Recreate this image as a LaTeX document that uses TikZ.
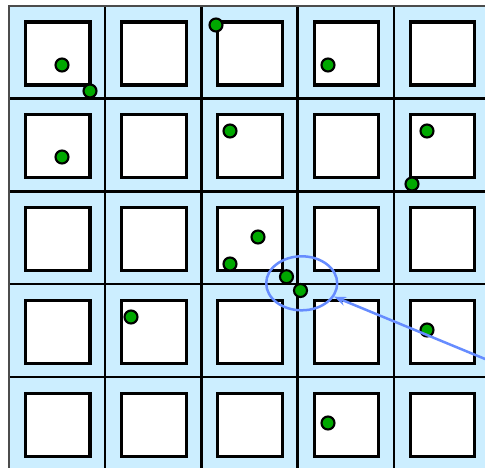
\documentclass[tikz,border=0pt]{standalone}
\usetikzlibrary{shapes.geometric,arrows.meta}
\definecolor{cellblue}{RGB}{204,238,255}
\definecolor{dotgreen}{RGB}{0,168,0}
\definecolor{ringblue}{RGB}{102,140,255}
\begin{document}
\begin{tikzpicture}[x=1pt,y=-1pt,
  dot/.style={circle,draw=black,line width=2.1pt,fill=dotgreen,minimum size=13pt,inner sep=0pt},
  innersq/.style={draw=black,fill=white,line width=3.1pt},
  gridline/.style={draw=black,line width=2.3pt},
  ring/.style={ellipse,draw=ringblue,line width=2.5pt,minimum width=71pt,minimum height=54pt,inner sep=0pt},
  pointer/.style={draw=ringblue,line width=2.5pt,-{Stealth[length=12pt,width=9pt]}}]
\useasboundingbox (0,0) rectangle (485,467);
\clip (0,0) rectangle (485,467);
% background of cells
\fill[cellblue] (9,5.7) rectangle (490,470);
% inner white squares
\foreach \i in {0,...,4}
  \foreach \j in {0,...,4}
    \draw[innersq] ({9+96.2*\i+16.5},{5.7+92.86*\j+16.3}) rectangle +(64.5,63);
% grid lines
\foreach \i in {1,...,4}
  \draw[gridline] ({9+96.2*\i},5.7) -- ({9+96.2*\i},470);
\foreach \j in {1,...,4}
  \draw[gridline] (9,{5.7+92.86*\j}) -- (490,{5.7+92.86*\j});
\draw[draw=black!70,line width=1.6pt] (9,470) -- (9,5.7) -- (490,5.7);
% dots
\node[dot] (d1) at (62,65) {};
\node[dot] (d2) at (90,91) {};
\node[dot] (d3) at (216,25) {};
\node[dot] (d4) at (328,65) {};
\node[dot] (d5) at (62,157) {};
\node[dot] (d6) at (230,131) {};
\node[dot] (d7) at (427,131) {};
\node[dot] (d8) at (412,184) {};
\node[dot] (d9) at (258,237) {};
\node[dot] (d10) at (230,264) {};
\node[dot] (d11) at (286.5,276.7) {};
\node[dot] (d12) at (300.5,290.5) {};
\node[dot] (d13) at (131,317) {};
\node[dot] (d14) at (427,330) {};
\node[dot] (d15) at (328,423) {};
% highlight ring and pointer
\node[ring] (ell) at (301.7,283.3) {};
\coordinate (tail) at (490,361);
\draw[pointer] (tail) -- (ell);
\end{tikzpicture}
\end{document}
